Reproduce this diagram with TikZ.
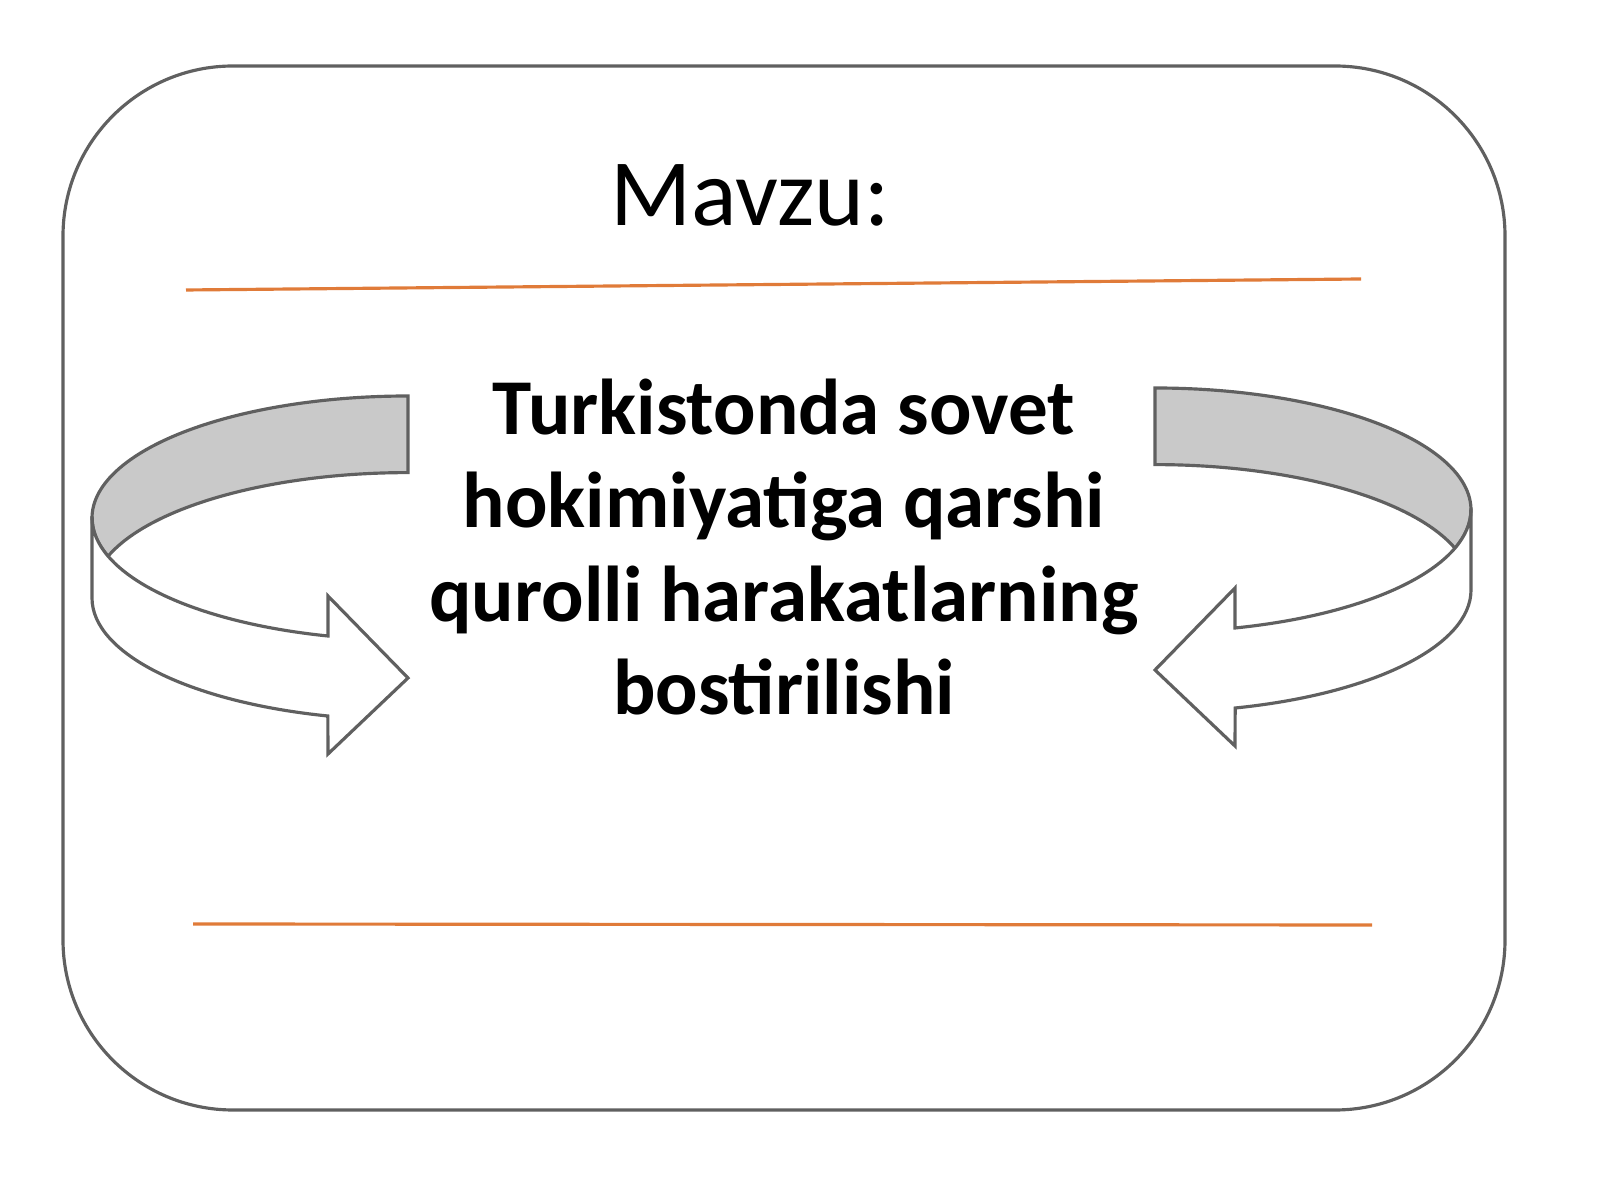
\documentclass[tikz,border=0pt]{standalone}
\usepackage{fontspec}
\setmainfont{Carlito}
\definecolor{framegray}{HTML}{606060}
\definecolor{bandgray}{HTML}{C9C9C9}
\definecolor{lineorange}{HTML}{E07B39}
\tikzset{
  frame/.style={draw=framegray, line width=0.9pt},
  rule/.style={draw=lineorange, line width=0.9pt},
  band/.style={frame, fill=bandgray},
  shaft/.style={frame, fill=white},
  ell/.style={x radius=316, y radius=122}
}
\newcommand\turnarrow{%
  % upper gray band
  \filldraw[band] (408,804) arc[start angle=90, end angle=198.3, ell]
    arc[start angle=161.7, end angle=90, ell] -- cycle;
  % lower white part with head
  \filldraw[shaft] (92,682) -- (92,602) arc[start angle=180, end angle=255.3, ell]
    -- (328,446) -- (408,522) -- (328,604) -- (328,564)
    arc[start angle=255.3, end angle=198.3, ell]
    arc[start angle=198.3, end angle=180, ell] -- cycle;
}
\begin{document}
\begin{tikzpicture}[x=0.01cm, y=0.01cm]
  \useasboundingbox (0,0) rectangle (1600,1200);
  % outer frame
  \draw[frame, rounded corners=1.7cm] (63,90) rectangle (1505,1134);

  % title
  \node[font=\fontsize{27}{32}\selectfont] (mavzu) at (750,1005) {Mavzu:};
  \draw[rule] (186,910) -- (1361,921);
  \draw[rule] (193,276) -- (1372,275);

  % topic
  \node[font=\fontsize{22.5}{26.5}\selectfont\bfseries, align=center] (topic) at (784,653)
    {Turkistonda sovet\\hokimiyatiga qarshi\\qurolli harakatlarning\\bostirilishi};

  % curved arrows
  \begin{scope}
    \turnarrow
  \end{scope}
  \begin{scope}[shift={(1563,8)}, xscale=-1]
    \turnarrow
  \end{scope}
\end{tikzpicture}
\end{document}
